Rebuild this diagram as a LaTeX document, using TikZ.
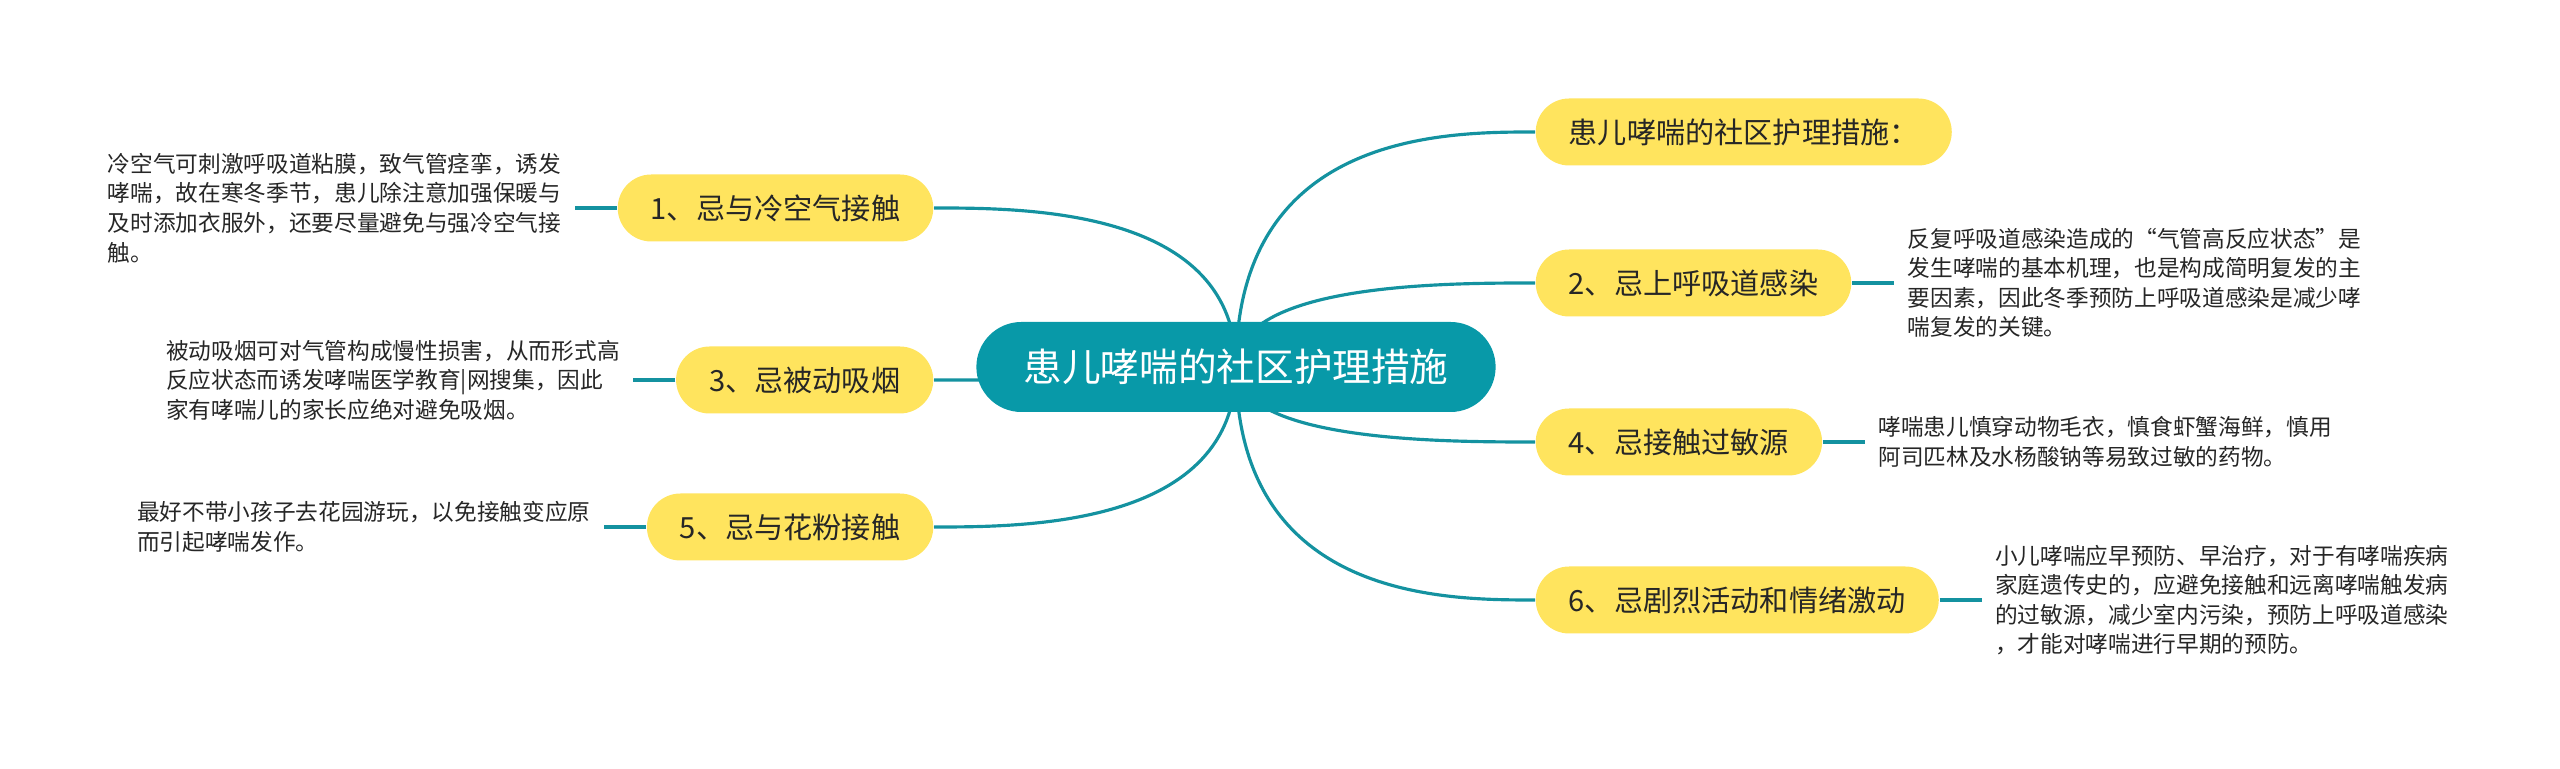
\documentclass[tikz,border=0pt]{standalone}
\usepackage{fontspec}
\setmainfont{Noto Sans CJK SC}
\usetikzlibrary{positioning,calc,backgrounds}
\definecolor{mapteal}{RGB}{8,153,168}
\definecolor{linkteal}{RGB}{20,146,160}
\definecolor{mapyellow}{RGB}{255,228,94}
\definecolor{inkgray}{RGB}{38,38,38}

\begin{document}
\begin{tikzpicture}[node distance=0.42cm, every node/.style={inner ysep=0pt},
  topic/.style={fill=mapteal,text=white,rounded corners=0.45cm,minimum height=0.9cm,inner xsep=0.47cm,font=\fontsize{11pt}{13pt}\selectfont},
  branch/.style={fill=mapyellow,text=inkgray,rounded corners=0.335cm,minimum height=0.67cm,inner xsep=0.33cm,font=\fontsize{8.3pt}{10pt}\selectfont},
  note/.style={align=left,inner xsep=0.13cm,text=inkgray,font=\fontsize{6.45pt}{8.4pt}\selectfont},
  link/.style={draw=linkteal,line width=0.9pt}]
\useasboundingbox (0,0) rectangle (25.6,-7.69);
% centre
\node[topic] (c) at (12.36,-3.67) {患儿哮喘的社区护理措施};
% right side
\node[branch,anchor=west] (r0) at (15.35,-1.32) {患儿哮喘的社区护理措施：};
\node[branch,anchor=west] (r2) at (15.35,-2.83) {2、忌上呼吸道感染};
\node[branch,anchor=west] (r4) at (15.35,-4.42) {4、忌接触过敏源};
\node[branch,anchor=west] (r6) at (15.35,-6.00) {6、忌剧烈活动和情绪激动};
% left side
\node[branch,anchor=east] (l1) at (9.34,-2.08) {1、忌与冷空气接触};
\node[branch,anchor=east] (l3) at (9.34,-3.80) {3、忌被动吸烟};
\node[branch,anchor=east] (l5) at (9.34,-5.27) {5、忌与花粉接触};
% notes
\node[note,right=of r2] (t2) {反复呼吸道感染造成的“气管高反应状态”是\\发生哮喘的基本机理，也是构成简明复发的主\\要因素，因此冬季预防上呼吸道感染是减少哮\\喘复发的关键。};
\node[note,right=of r4] (t4) {哮喘患儿慎穿动物毛衣，慎食虾蟹海鲜，慎用\\阿司匹林及水杨酸钠等易致过敏的药物。};
\node[note,right=of r6] (t6) {小儿哮喘应早预防、早治疗，对于有哮喘疾病\\家庭遗传史的，应避免接触和远离哮喘触发病\\的过敏源，减少室内污染，预防上呼吸道感染\\，才能对哮喘进行早期的预防。};
\node[note,left=of l1] (t1) {冷空气可刺激呼吸道粘膜，致气管痉挛，诱发\\哮喘，故在寒冬季节，患儿除注意加强保暖与\\及时添加衣服外，还要尽量避免与强冷空气接\\触。};
\node[note,left=of l3] (t3) {被动吸烟可对气管构成慢性损害，从而形式高\\反应状态而诱发哮喘医学教育|网搜集，因此\\家有哮喘儿的家长应绝对避免吸烟。};
\node[note,left=of l5] (t5) {最好不带小孩子去花园游玩，以免接触变应原\\而引起哮喘发作。};
\begin{scope}[on background layer]
\foreach \n/\a in {r0/west,r2/west,r4/west,r6/west,l1/east,l3/east,l5/east}
  \draw[link] (c.center) .. controls (c.center |- \n.\a) and ($(c.center |- \n.\a)!0.7!(\n.\a)$) .. (\n.\a);
\end{scope}
\draw[link] (r2.east) -- (t2.west); \draw[link] (r4.east) -- (t4.west); \draw[link] (r6.east) -- (t6.west);
\draw[link] (l1.west) -- (t1.east); \draw[link] (l3.west) -- (t3.east); \draw[link] (l5.west) -- (t5.east);
\end{tikzpicture}
\end{document}
